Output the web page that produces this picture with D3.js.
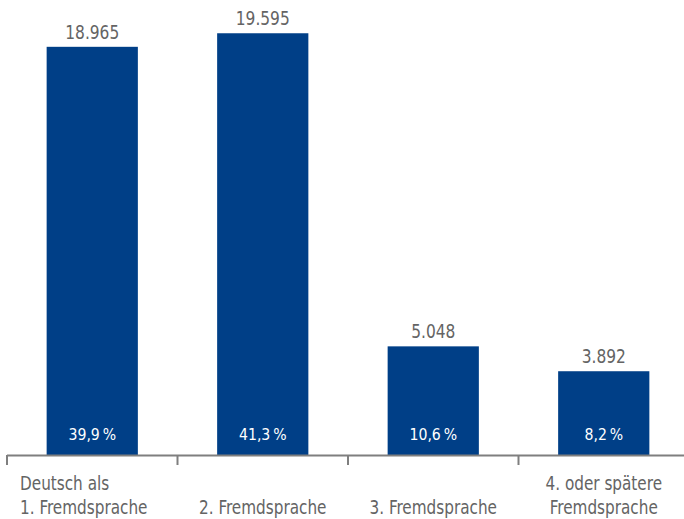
<!DOCTYPE html>
<html><head><meta charset="utf-8">
<script src="https://cdn.jsdelivr.net/npm/d3@7/dist/d3.min.js"></script>
<style>
html,body{margin:0;padding:0;background:#fff;}
svg text{font-family:"DejaVu Sans Condensed","DejaVu Sans",sans-serif;}
</style></head>
<body>
<script>
const categories = [["Deutsch als","1. Fremdsprache"],["2. Fremdsprache"],["3. Fremdsprache"],["4. oder spätere","Fremdsprache"]];
const values = [18965, 19595, 5048, 3892];
const valueLabels = ["18.965","19.595","5.048","3.892"];
const shareLabels = ["39,9\u202F%","41,3\u202F%","10,6\u202F%","8,2\u202F%"];

const W = 684, H = 519;
const svg = d3.select("body").append("svg").attr("width", W).attr("height", H);

const x = d3.scaleBand().domain(d3.range(categories.length)).range([7, 689]).paddingInner(0.465).paddingOuter(0.2325);
const y = d3.scaleLinear().domain([0, 21140]).range([455, 0]);

const barColor = "#003F87";
const grey = "#646464";

svg.selectAll("rect.bar").data(values).join("rect")
  .attr("class","bar")
  .attr("x",(d,i)=>x(i)).attr("width",x.bandwidth())
  .attr("y",d=>y(d)).attr("height",d=>y(0)-y(d))
  .attr("fill",barColor);

svg.selectAll("text.val").data(values).join("text")
  .attr("class","val")
  .attr("transform",(d,i)=>`translate(${x(i)+x.bandwidth()/2},${y(d)-8}) scale(0.88,1)`)
  .attr("text-anchor","middle")
  .attr("font-size",19.5)
  .attr("fill",grey)
  .text((d,i)=>valueLabels[i]);

svg.selectAll("text.share").data(values).join("text")
  .attr("class","share")
  .attr("transform",(d,i)=>`translate(${x(i)+x.bandwidth()/2},${y(0)-15}) scale(0.95,1)`)
  .attr("text-anchor","middle")
  .attr("font-size",16.5)
  .attr("fill","#ffffff")
  .text((d,i)=>shareLabels[i]);

// axis
const step = x.step();
const edges = d3.range(categories.length).map(i => x(i) - x.paddingInner()*step/2);
const axisG = svg.append("g");
axisG.append("line").attr("x1",edges[0]).attr("x2",W).attr("y1",y(0)+0.5).attr("y2",y(0)+0.5)
  .attr("stroke","#7f7f7f").attr("stroke-width",2);
axisG.selectAll("line.tick").data(edges).join("line").attr("class","tick")
  .attr("x1",d=>d).attr("x2",d=>d).attr("y1",y(0)).attr("y2",y(0)+10)
  .attr("stroke","#7f7f7f").attr("stroke-width",2);

const labG = svg.append("g");
categories.forEach((lines,i)=>{
  const cx = x(i)+x.bandwidth()/2;
  const anchorLeft = (i===0);
  const startY = lines.length===2 ? 490 : 514;
  lines.forEach((ln,j)=>{
    labG.append("text")
      .attr("transform",`translate(${anchorLeft ? 20 : cx},${startY + j*24}) scale(0.87,1)`)
      .attr("text-anchor", anchorLeft ? "start" : "middle")
      .attr("font-size",19.5).attr("fill",grey)
      .text(ln);
  });
});
</script>
</body></html>
